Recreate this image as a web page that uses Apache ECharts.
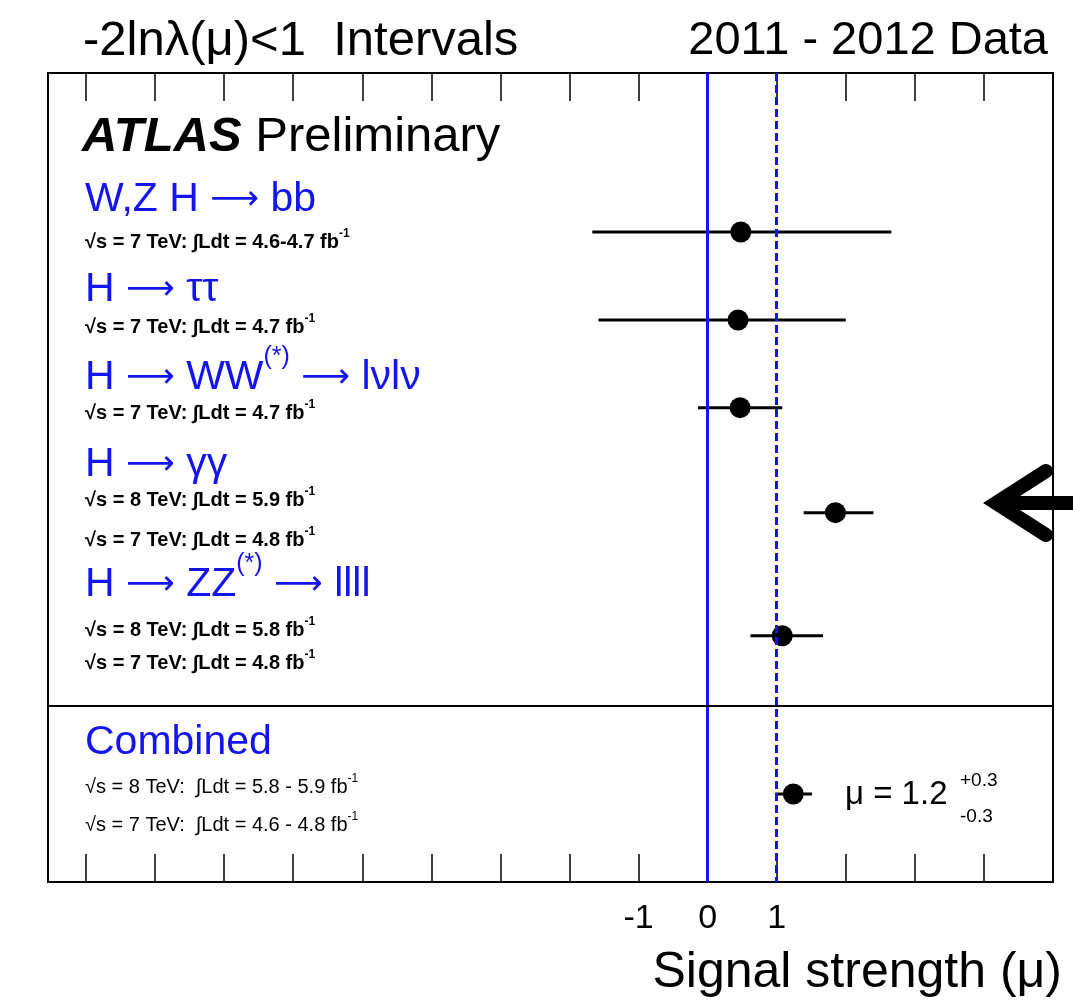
<!DOCTYPE html>
<html><head><meta charset="utf-8">
<script src="https://cdn.jsdelivr.net/npm/echarts@6/dist/echarts.min.js"></script>
<style>html,body{margin:0;padding:0;background:#fff}#c{width:1073px;height:1008px}</style>
</head><body><div id="c"></div>
<script>
// ---- data ----
const channels = ['W,Z H \u2192 bb', 'H \u2192 \u03c4\u03c4', 'H \u2192 WW(*) \u2192 l\u03bdl\u03bd', 'H \u2192 \u03b3\u03b3', 'H \u2192 ZZ(*) \u2192 llll', 'Combined'];
const muCentral = [0.48, 0.44, 0.47, 1.85, 1.08, 1.24];
const muLow     = [-1.67, -1.58, -0.14, 1.39, 0.62, 0.98];
const muHigh    = [2.66, 2.00, 1.08, 2.40, 1.67, 1.51];
const rowPos    = [19.65, 30.53, 41.37, 54.35, 69.56, 89.12];   // vertical row coordinate (0..100, top->bottom)
const separatorPos = 78.25;
const tickValues = [-9, -8, -7, -6, -5, -4, -3, -2, -1, 0, 1, 2, 3, 4];
const tickLabels = [-1, 0, 1];
const refLines = [0, 1];
const xMin = -9.55, xMax = 5.0;

const FONT = '"Liberation Sans", Arial, Helvetica, "DejaVu Sans", sans-serif';
const BLUE = '#1414f0';

const chart = echarts.init(document.getElementById('c'), null, {renderer: 'canvas'});

function txt(x, y, text, opts) {
  return {
    type: 'text', x: x, y: y, z: 100,
    style: Object.assign({
      text: text, fontFamily: FONT, fontSize: 18, fill: '#000',
      align: 'left', verticalAlign: 'middle'
    }, opts || {})
  };
}
function subRich(bold) {
  return {
    s: {fontSize: 12, verticalAlign: 'top', lineHeight: 28, fontFamily: FONT, fontWeight: bold ? 'bold' : 'normal', fill: '#000'}
  };
}
const headRich = {
  s: {fontSize: 25, verticalAlign: 'top', lineHeight: 66, fontFamily: FONT, fill: BLUE},
  a: {fontSize: 34, fontFamily: '"DejaVu Sans", sans-serif', fill: BLUE, lineHeight: 46}
};
function head(x, y, text) {
  return txt(x, y, text, {fontSize: 41, fill: BLUE, rich: headRich, lineHeight: 46});
}
function sub(x, y, text, bold) {
  return txt(x, y, text, {fontSize: 20, fontWeight: bold ? 'bold' : 'normal', rich: subRich(bold), lineHeight: 22});
}
const AR = '{a|\u27f6}';

const graphics = [
  txt(83, 41, '-2ln\u03bb(\u03bc)<1  Intervals', {fontSize: 49}),
  txt(1048, 41, '2011 - 2012 Data', {fontSize: 47, align: 'right'}),
  txt(1062, 973, 'Signal strength (\u03bc)', {fontSize: 50, align: 'right'}),
  txt(82, 137, '{b|ATLAS} Preliminary', {fontSize: 49, rich: {b: {fontSize: 49, fontWeight: 'bold', fontStyle: 'italic', fontFamily: FONT, fill: '#000'}}}),

  head(85, 200, 'W,Z H ' + AR + ' bb'),
  sub(85, 242, '\u221as = 7 TeV: \u222bLdt = 4.6-4.7 fb{s|-1}', true),
  head(85, 290, 'H ' + AR + ' \u03c4\u03c4'),
  sub(85, 327, '\u221as = 7 TeV: \u222bLdt = 4.7 fb{s|-1}', true),
  head(85, 378, 'H ' + AR + ' WW{s|(*)} ' + AR + ' l\u03bdl\u03bd'),
  sub(85, 413, '\u221as = 7 TeV: \u222bLdt = 4.7 fb{s|-1}', true),
  head(85, 465, 'H ' + AR + ' \u03b3\u03b3'),
  sub(85, 500, '\u221as = 8 TeV: \u222bLdt = 5.9 fb{s|-1}', true),
  sub(85, 540, '\u221as = 7 TeV: \u222bLdt = 4.8 fb{s|-1}', true),
  head(85, 585, 'H ' + AR + ' ZZ{s|(*)} ' + AR + ' llll'),
  sub(85, 630, '\u221as = 8 TeV: \u222bLdt = 5.8 fb{s|-1}', true),
  sub(85, 663, '\u221as = 7 TeV: \u222bLdt = 4.8 fb{s|-1}', true),
  head(85, 743, 'Combined'),
  sub(85, 787, '\u221as = 8 TeV:  \u222bLdt = 5.8 - 5.9 fb{s|-1}', false),
  sub(85, 825, '\u221as = 7 TeV:  \u222bLdt = 4.6 - 4.8 fb{s|-1}', false),

  txt(845, 795, '\u03bc = 1.2', {fontSize: 33}),
  txt(960, 781, '+0.3', {fontSize: 19}),
  txt(960, 817, '-0.3', {fontSize: 19}),

  // annotation arrow
  {type: 'polyline', z: 110, shape: {points: [[1046, 471], [996, 503], [1046, 535]]},
   style: {stroke: '#000', lineWidth: 14, lineCap: 'round', lineJoin: 'miter', fill: null}},
  {type: 'line', z: 110, shape: {x1: 1000, y1: 503, x2: 1080, y2: 503},
   style: {stroke: '#000', lineWidth: 14}}
];

const option = {
  animation: false,
  backgroundColor: '#fff',
  grid: {left: 48, right: 20, top: 73, bottom: 126, show: true, borderColor: '#000', borderWidth: 2, backgroundColor: '#fff'},
  xAxis: [
    {type: 'value', min: xMin, max: xMax, position: 'bottom',
     splitLine: {show: false}, axisLine: {show: false, onZero: false},
     axisTick: {show: true, inside: true, length: 28, customValues: tickValues, lineStyle: {color: '#000', width: 1.5}},
     axisLabel: {show: true, customValues: tickLabels, fontSize: 34, color: '#000', fontFamily: FONT, margin: 20,
                 showMinLabel: true, showMaxLabel: true}},
    {type: 'value', min: xMin, max: xMax, position: 'top',
     splitLine: {show: false}, axisLine: {show: false, onZero: false},
     axisTick: {show: true, inside: true, length: 28, customValues: tickValues, lineStyle: {color: '#000', width: 1.5}},
     axisLabel: {show: false}}
  ],
  yAxis: {type: 'value', min: 0, max: 100, inverse: true, show: false},
  graphic: graphics,
  series: [
    {type: 'line', data: [], silent: true, z: 1,
     markLine: {symbol: 'none', silent: true, label: {show: false},
       data: [
         {xAxis: refLines[0], lineStyle: {color: BLUE, width: 3, type: 'solid'}},
         {xAxis: refLines[1], lineStyle: {color: BLUE, width: 3, type: [8, 4]}},
         {yAxis: separatorPos, lineStyle: {color: '#000', width: 2, type: 'solid'}}
       ]}},
    {type: 'custom', z: 3,
     data: channels.map((c, i) => [muLow[i], muHigh[i], rowPos[i]]),
     encode: {x: [0, 1], y: 2},
     renderItem: function (params, api) {
       const p1 = api.coord([api.value(0), api.value(2)]);
       const p2 = api.coord([api.value(1), api.value(2)]);
       return {type: 'line', shape: {x1: p1[0], y1: p1[1], x2: p2[0], y2: p2[1]},
               style: {stroke: '#000', lineWidth: 3}};
     }},
    {type: 'scatter', z: 4, symbol: 'circle', symbolSize: 21,
     data: channels.map((c, i) => [muCentral[i], rowPos[i]]),
     itemStyle: {color: '#000', opacity: 1}}
  ]
};
chart.setOption(option);
</script></body></html>
